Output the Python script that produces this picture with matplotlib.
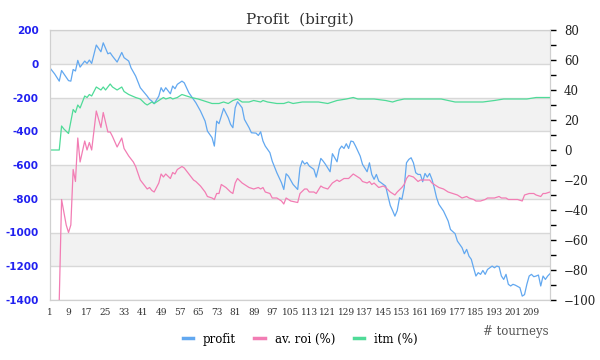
import numpy as np
import matplotlib.pyplot as plt
from matplotlib.ticker import MultipleLocator

# profit (left axis) - tourney number and value
profit_t = [1, 3, 5, 6, 9, 10, 11, 12, 13, 14, 16, 17, 18, 19, 21, 23, 24, 26, 27, 28,
            30, 32, 33, 35, 36, 38, 40, 43, 44, 45, 46, 48, 49, 50, 51, 53, 54, 55, 56, 58,
            59, 61, 62, 64, 66, 68, 69, 71, 72, 73, 74, 76, 78, 79, 80, 81, 82, 84, 85, 87,
            88, 90, 91, 92, 93, 94, 96, 97, 99, 101, 102, 103, 104, 106, 108, 109, 110, 111, 112, 113,
            115, 116, 118, 119, 120, 122, 123, 125, 126, 127, 128, 129, 130, 131, 132, 133, 135, 136, 138, 139,
            140, 141, 142, 143, 145, 146, 147, 148, 149, 150, 151, 152, 153, 154, 155, 156, 157, 158, 159, 160,
            161, 162, 163, 164, 165, 166, 167, 168, 169, 171, 173, 174, 176, 177, 179, 180, 181, 182, 183, 184,
            185, 186, 187, 188, 189, 190, 192, 193, 194, 195, 196, 197, 198, 199, 200, 201, 202, 204, 205, 206,
            207, 208, 209, 210, 211, 212, 213, 214, 215, 216, 217]
profit = [-25, -60, -103, -40, -100, -103, -34, -43, 20, -20, 16, 2, 22, 2, 111, 71, 124, 59, 65, 45,
          10, 67, 36, 16, -24, -73, -142, -192, -211, -221, -237, -192, -142, -166, -142, -178, -132, -148, -122, -103,
          -113, -172, -192, -231, -280, -340, -399, -438, -488, -340, -355, -265, -320, -359, -379, -261, -225, -261, -330, -379,
          -409, -411, -425, -403, -458, -488, -527, -577, -646, -705, -745, -652, -666, -715, -745, -616, -575, -595, -585, -606,
          -626, -672, -561, -577, -596, -640, -533, -581, -508, -488, -502, -474, -502, -458, -462, -488, -547, -596, -640, -587,
          -656, -685, -656, -695, -715, -725, -784, -840, -870, -903, -870, -794, -804, -735, -587, -567, -557, -587, -646, -656,
          -656, -699, -650, -672, -650, -685, -735, -794, -833, -873, -932, -982, -1007, -1051, -1090, -1126, -1100, -1140, -1159, -1210,
          -1258, -1238, -1248, -1225, -1248, -1219, -1199, -1209, -1199, -1203, -1258, -1278, -1248, -1307, -1317, -1307, -1312, -1327, -1377, -1368,
          -1307, -1258, -1248, -1262, -1258, -1252, -1317, -1258, -1278, -1258, -1244]

# av. roi (%) - right axis
roi_t = [5, 6, 8, 9, 10, 11, 12, 13, 14, 16, 17, 18, 19, 21, 23, 24, 26, 27, 28, 30,
         32, 33, 35, 37, 38, 40, 42, 43, 44, 45, 46, 48, 49, 50, 51, 53, 54, 55, 56, 58,
         59, 61, 63, 64, 66, 68, 69, 71, 72, 73, 74, 75, 77, 79, 80, 81, 82, 84, 86, 87,
         89, 91, 92, 93, 94, 96, 97, 99, 101, 102, 103, 105, 108, 109, 111, 112, 113, 115, 116, 118,
         119, 121, 123, 125, 126, 128, 129, 130, 132, 133, 135, 136, 138, 139, 140, 141, 143, 145, 146, 148,
         149, 150, 151, 153, 154, 155, 156, 158, 160, 161, 163, 164, 165, 166, 169, 171, 173, 175, 177, 179,
         181, 182, 184, 185, 187, 189, 190, 193, 195, 196, 198, 199, 200, 202, 203, 205, 206, 208, 210, 211,
         213, 214, 215, 217]
roi = [-100, -33, -50, -55, -50, -13, -21, 8, -8, 6, 0, 5, 0, 26, 15, 25, 12, 12, 9, 2,
       8, 1, -4, -8, -11, -20, -24, -26, -25, -27, -28, -22, -16, -18, -16, -19, -15, -16, -13, -11,
       -12, -16, -20, -21, -24, -28, -31, -32, -33, -29, -29, -23, -25, -28, -29, -22, -19, -22, -24, -25,
       -26, -25, -26, -25, -28, -29, -32, -32, -34, -36, -32, -34, -35, -29, -26, -26, -28, -28, -29, -24,
       -25, -26, -22, -20, -21, -19, -19, -19, -16, -17, -19, -21, -22, -21, -23, -22, -25, -24, -25, -28,
       -29, -30, -28, -25, -23, -19, -17, -18, -21, -20, -20, -20, -20, -22, -25, -26, -28, -29, -30, -32,
       -31, -32, -33, -34, -34, -33, -32, -32, -31, -32, -32, -33, -33, -33, -33, -34, -30, -29, -29, -30,
       -31, -29, -29, -28]

# itm (%) - right axis
itm_t = [1, 5, 6, 7, 9, 11, 12, 13, 14, 16, 17, 18, 19, 21, 23, 24, 25, 27, 28, 30,
         32, 33, 35, 38, 40, 42, 43, 45, 46, 48, 50, 51, 53, 54, 56, 58, 60, 62, 65, 67,
         69, 71, 74, 76, 78, 80, 82, 84, 87, 89, 92, 93, 95, 99, 102, 104, 106, 110, 113, 117,
         121, 123, 125, 129, 132, 134, 138, 141, 146, 149, 151, 154, 160, 167, 170, 173, 176, 182, 188, 193,
         197, 202, 207, 211, 217]
itm = [0, 0, 16, 14, 11, 27, 25, 30, 28, 36, 35, 37, 36, 42, 40, 42, 40, 44, 42, 40,
       42, 39, 37, 35, 34, 31, 30, 32, 31, 33, 35, 34, 35, 34, 35, 37, 36, 35, 34, 33,
       32, 31, 31, 32, 31, 33, 34, 32, 32, 33, 32, 33, 32, 31, 31, 32, 31, 32, 32, 32,
       31, 32, 33, 34, 35, 34, 34, 34, 33, 32, 33, 34, 34, 34, 34, 33, 32, 32, 32, 33,
       34, 34, 34, 35, 35]

left_ticks = [200, 0, -200, -400, -600, -800, -1000, -1200, -1400]
x_ticks = list(range(1, 210, 8))

fig = plt.figure(figsize=(6, 3.6), dpi=100)
ax = fig.add_axes([50 / 600, 60 / 360, 500 / 600, 270 / 360])

# alternating bands
for lo, hi in [(0, 200), (-400, -200), (-800, -600), (-1200, -1000)]:
    ax.axhspan(lo, hi, color='#f2f2f2', zorder=0, lw=0)
for v in left_ticks:
    ax.axhline(v, color='#d8d8d8', lw=1, zorder=1)

ax.plot(profit_t, profit, color='#62a8f0', lw=0.9, zorder=3)
ax.set_xlim(1, 217)
ax.set_ylim(-1400, 200)
ax.set_yticks(left_ticks)
ax.set_yticklabels([str(v) for v in left_ticks], color='#2020f0',
                   fontsize=7.5, fontweight='bold', family='DejaVu Sans')
ax.set_xticks(x_ticks)
ax.set_xticklabels([str(v) for v in x_ticks], fontsize=6.5, family='DejaVu Serif', color='#333333')
ax.tick_params(axis='both', length=0)
ax.tick_params(axis='y', pad=8)
ax.tick_params(axis='x', pad=6)
for s in ax.spines.values():
    s.set_color('#d0d0d0')

ax2 = ax.twinx()
ax2.plot(roi_t, roi, color='#f27db4', lw=0.9)
ax2.plot(itm_t, itm, color='#4fdb98', lw=0.9)
ax2.set_ylim(-100, 80)
ax2.yaxis.set_major_locator(MultipleLocator(20))
ax2.yaxis.set_minor_locator(MultipleLocator(10))
ax2.tick_params(axis='y', which='both', direction='out', length=4, color='black', width=1)
ax2.tick_params(axis='y', labelsize=8.5, pad=6, labelcolor='#222222')
for lab in ax2.get_yticklabels():
    lab.set_family('DejaVu Serif')
for s in ax2.spines.values():
    s.set_color('#d0d0d0')

fig.text(0.5, 0.945, 'Profit  (birgit)', ha='center', va='center', fontsize=11,
         family='DejaVu Serif', color='#333333')
fig.text(549 / 600, 1 - 331 / 360, '# tourneys', ha='right', va='center', fontsize=8.5,
         family='DejaVu Serif', color='#555555')

# legend
handles = [plt.Line2D([], [], color=c, lw=2.5) for c in ['#62a8f0', '#f27db4', '#4fdb98']]
fig.legend(handles, ['profit', 'av. roi (%)', 'itm (%)'], loc='center', ncol=3,
           bbox_to_anchor=(0.5, 1 - 339 / 360), frameon=False, handlelength=0.9,
           handletextpad=0.8, columnspacing=1.6, prop={'family': 'DejaVu Serif', 'size': 8.5})

fig.savefig('out.png', dpi=100)
